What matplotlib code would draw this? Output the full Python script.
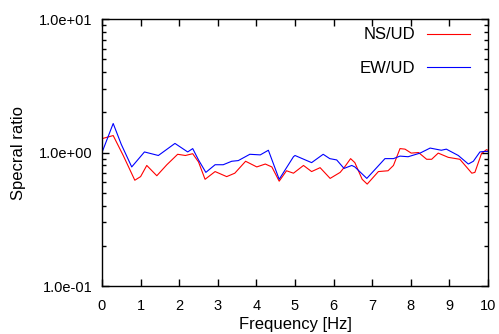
import numpy as np
import matplotlib.pyplot as plt
from matplotlib.ticker import LogLocator, FixedLocator, NullFormatter, FuncFormatter

plt.rcParams['font.family'] = ['Liberation Sans', 'DejaVu Sans']

# spectral ratio curves
ns_freq = [0.0, 0.29, 0.55, 0.85, 1.0, 1.16, 1.42, 1.68, 1.96, 2.16, 2.35, 2.5,
           2.67, 2.93, 3.23, 3.44, 3.72, 4.01, 4.23, 4.4, 4.59, 4.78, 4.96, 5.22,
           5.43, 5.65, 5.91, 6.17, 6.30, 6.44, 6.55, 6.74, 6.87, 7.16, 7.41,
           7.55, 7.72, 7.85, 8.01, 8.20, 8.41, 8.54, 8.71, 8.97, 9.27, 9.58,
           9.66, 9.83, 9.96, 10.0]
ns_ud = [1.27, 1.34, 0.95, 0.62, 0.66, 0.80, 0.67, 0.81, 0.97, 0.95, 0.98, 0.85,
         0.63, 0.72, 0.66, 0.70, 0.86, 0.78, 0.82, 0.78, 0.61, 0.73, 0.70, 0.80,
         0.72, 0.77, 0.64, 0.71, 0.79, 0.90, 0.84, 0.63, 0.58, 0.72, 0.73,
         0.80, 1.07, 1.06, 0.99, 1.00, 0.89, 0.89, 0.99, 0.92, 0.89, 0.70,
         0.71, 0.98, 1.05, 1.04]

ew_freq = [0.0, 0.29, 0.5, 0.77, 1.10, 1.46, 1.89, 2.22, 2.35, 2.5, 2.69, 2.93,
           3.14, 3.36, 3.53, 3.83, 4.10, 4.31, 4.59, 4.96, 5.0, 5.43, 5.73,
           5.90, 6.08, 6.27, 6.47, 6.55, 6.86, 7.33, 7.55, 7.72, 7.93, 8.24,
           8.50, 8.79, 8.92, 9.23, 9.49, 9.62, 9.79, 9.92, 10.0]
ew_ud = [1.0, 1.65, 1.15, 0.78, 1.01, 0.95, 1.17, 1.01, 1.07, 0.88, 0.71, 0.81,
         0.81, 0.86, 0.87, 0.97, 0.96, 1.04, 0.63, 0.93, 0.95, 0.84, 0.97,
         0.90, 0.88, 0.76, 0.80, 0.78, 0.64, 0.90, 0.90, 0.94, 0.93, 0.99,
         1.08, 1.04, 1.06, 0.95, 0.82, 0.86, 1.01, 1.02, 1.02]

fig = plt.figure(figsize=(4.99, 3.34), dpi=100)
ax = fig.add_axes([0.2044, 0.1437, 0.7736, 0.7993])

ax.plot(ns_freq, ns_ud, color='#ff0000', lw=0.8, label='NS/UD')
ax.plot(ew_freq, ew_ud, color='#0000ff', lw=0.8, label='EW/UD')

ax.set_yscale('log')
ax.set_xlim(0, 10)
ax.set_ylim(0.1, 10)
ax.xaxis.set_major_locator(FixedLocator(range(0, 11)))
ax.yaxis.set_major_locator(LogLocator(base=10, numticks=5))
ax.yaxis.set_minor_locator(LogLocator(base=10, subs=np.arange(2, 10), numticks=10))
ax.yaxis.set_minor_formatter(NullFormatter())
ax.yaxis.set_major_formatter(FuncFormatter(lambda v, p: '%.1e' % v))

ax.tick_params(which='both', direction='in', top=True, right=True,
               labelsize=10.5, width=1)
ax.tick_params(axis='x', pad=9)
ax.tick_params(axis='y', pad=7)
ax.tick_params(which='major', length=5)
ax.tick_params(which='minor', length=3)
for s in ax.spines.values():
    s.set_linewidth(1)

ax.set_xlabel('Frequency [Hz]', fontsize=12, labelpad=3)
ax.set_ylabel('Specral ratio', fontsize=12, labelpad=9)

# gnuplot-style key: label first, then the line sample
ax.legend(loc='upper right', frameon=False, markerfirst=False, fontsize=12,
          handlelength=2.6, handletextpad=0.7, labelspacing=1.13,
          bbox_to_anchor=(0.993, 1.025))

fig.savefig('out.png', dpi=100)
